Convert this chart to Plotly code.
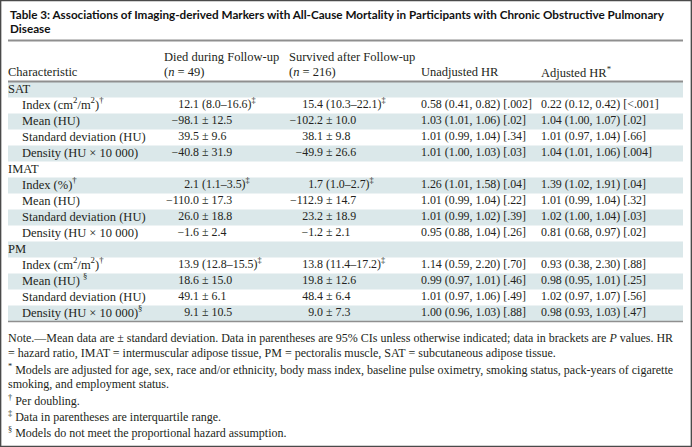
import plotly.graph_objects as go

# ---------------- data ----------------
title_lines = [
    "Table 3: Associations of Imaging-derived Markers with All-Cause Mortality in Participants with Chronic Obstructive Pulmonary",
    "Disease",
]
col_headers = ["Characteristic", "Died during Follow-up", "Survived after Follow-up", "Unadjusted HR", "Adjusted HR<sup>*</sup>"]
col_subheaders = ["", "(<i>n</i> = 49)", "(<i>n</i> = 216)", "", ""]

characteristics = [
    "SAT",
    "Index (cm<sup>2</sup>/m<sup>2</sup>)<sup>†</sup>",
    "Mean (HU)",
    "Standard deviation (HU)",
    "Density (HU × 10 000)",
    "IMAT",
    "Index (%)<sup>†</sup>",
    "Mean (HU)",
    "Standard deviation (HU)",
    "Density (HU × 10 000)",
    "PM",
    "Index (cm<sup>2</sup>/m<sup>2</sup>)<sup>†</sup>",
    "Mean (HU) <sup>§</sup>",
    "Standard deviation (HU)",
    "Density (HU × 10 000)<sup>§</sup>",
]
is_group = [True, False, False, False, False, True, False, False, False, False, True, False, False, False, False]

died = [
    "", "12.1 (8.0–16.6)<sup>‡</sup>", "−98.1 ± 12.5", "39.5 ± 9.6", "−40.8 ± 31.9",
    "", "2.1 (1.1–3.5)<sup>‡</sup>", "−110.0 ± 17.3", "26.0 ± 18.8", "−1.6 ± 2.4",
    "", "13.9 (12.8–15.5)<sup>‡</sup>", "18.6 ± 15.0", "49.1 ± 6.1", "9.1 ± 10.5",
]
survived = [
    "", "15.4 (10.3–22.1)<sup>‡</sup>", "−102.2 ± 10.0", "38.1 ± 9.8", "−49.9 ± 26.6",
    "", "1.7 (1.0–2.7)<sup>‡</sup>", "−112.9 ± 14.7", "23.2 ± 18.9", "−1.2 ± 2.1",
    "", "13.8 (11.4–17.2)<sup>‡</sup>", "19.8 ± 12.6", "48.4 ± 6.4", "9.0 ± 7.3",
]
unadjusted_hr = [
    "", "0.58 (0.41, 0.82) [.002]", "1.03 (1.01, 1.06) [.02]", "1.01 (0.99, 1.04) [.34]", "1.01 (1.00, 1.03) [.03]",
    "", "1.26 (1.01, 1.58) [.04]", "1.01 (0.99, 1.04) [.22]", "1.01 (0.99, 1.02) [.39]", "0.95 (0.88, 1.04) [.26]",
    "", "1.14 (0.59, 2.20) [.70]", "0.99 (0.97, 1.01) [.46]", "1.01 (0.97, 1.06) [.49]", "1.00 (0.96, 1.03) [.88]",
]
adjusted_hr = [
    "", "0.22 (0.12, 0.42) [&lt;.001]", "1.04 (1.00, 1.07) [.02]", "1.01 (0.97, 1.04) [.66]", "1.04 (1.01, 1.06) [.004]",
    "", "1.39 (1.02, 1.91) [.04]", "1.01 (0.99, 1.04) [.32]", "1.02 (1.00, 1.04) [.03]", "0.81 (0.68, 0.97) [.02]",
    "", "0.93 (0.38, 2.30) [.88]", "0.98 (0.95, 1.01) [.25]", "1.02 (0.97, 1.07) [.56]", "0.98 (0.93, 1.03) [.47]",
]
footnotes = [
    "Note.—Mean data are ± standard deviation. Data in parentheses are 95% CIs unless otherwise indicated; data in brackets are <i>P</i> values. HR",
    "= hazard ratio, IMAT = intermuscular adipose tissue, PM = pectoralis muscle, SAT = subcutaneous adipose tissue.",
    "<sup>*</sup> Models are adjusted for age, sex, race and/or ethnicity, body mass index, baseline pulse oximetry, smoking status, pack-years of cigarette",
    "smoking, and employment status.",
    "<sup>†</sup> Per doubling.",
    "<sup>‡</sup> Data in parentheses are interquartile range.",
    "<sup>§</sup> Models do not meet the proportional hazard assumption.",
]

# ---------------- layout / style ----------------
W, H = 692, 447
ROW0 = 89.5      # pixel centre of first body row
ROWH = 16.0      # row height in pixels
LEFT, RIGHT = 8, 683
X_GROUP, X_SUB = 8, 22
X_DIED_DEC, X_SURV_DEC = 199, 323
X_UNADJ, X_ADJ = 421, 541
X_DIED_HDR, X_SURV_HDR = 164, 289
SERIF = "Liberation Serif"
SANS = "Lato"
FS = 12.5        # label text
FS_NUM = 11.9    # numeric cells
FS_FOOT = 12.0
TXT = "#231f20"
SHADE = "#dbe8ea"
RULE = "#8f8f8f"
APAD = 2         # annotation inner padding

def py(p):
    """pixel row -> paper fraction"""
    return 1 - p / H

n = len(characteristics)
rows = list(range(n))
shaded = [i for i in rows if i % 2 == 0]

fig = go.Figure()

# row shading as horizontal bars on the row scale
fig.add_trace(go.Bar(
    y=shaded, x=[RIGHT - LEFT] * len(shaded), base=[LEFT] * len(shaded),
    orientation="h", width=1.0, marker=dict(color=SHADE, line=dict(width=0)),
    hoverinfo="skip", showlegend=False,
))

def text_trace(xs, ys, texts, pos, size):
    keep = [k for k, t in enumerate(texts) if t]
    fig.add_trace(go.Scatter(
        x=[xs[k] for k in keep], y=[ys[k] for k in keep], text=[texts[k] for k in keep],
        mode="text", textposition=pos,
        textfont=dict(family=SERIF, size=size, color=TXT),
        hoverinfo="skip", showlegend=False, cliponaxis=False,
    ))

# characteristic column
text_trace([X_GROUP if g else X_SUB for g in is_group], rows, characteristics, "middle right", FS)

# decimal-aligned value columns
def split_first(s):
    if not s:
        return "", ""
    k = s.find(" ")
    return s[:k], "\u00a0" + s[k + 1:]

for col, xdec in ((died, X_DIED_DEC), (survived, X_SURV_DEC)):
    left = [split_first(s)[0] for s in col]
    right = [split_first(s)[1] for s in col]
    text_trace([xdec] * n, rows, left, "middle left", FS_NUM)
    text_trace([xdec] * n, rows, right, "middle right", FS_NUM)

text_trace([X_UNADJ] * n, rows, unadjusted_hr, "middle right", FS_NUM)
text_trace([X_ADJ] * n, rows, adjusted_hr, "middle right", FS_NUM)

font = dict(family=SERIF, size=FS, color=TXT)
annotations = []
# title
for i, t in enumerate(title_lines):
    annotations.append(dict(
        x=10 - APAD, xref="x", y=py(14 + i * 14.5), yref="paper", text="<b>" + t + "</b>",
        showarrow=False, xanchor="left", yanchor="middle",
        font=dict(family=SANS, size=11.7, color="#111111"),
    ))
# headers
hdr_x = [LEFT, X_DIED_HDR, X_SURV_HDR, X_UNADJ, X_ADJ]
for j in range(5):
    if col_subheaders[j]:
        annotations.append(dict(x=hdr_x[j] - APAD, xref="x", y=py(57), yref="paper", text=col_headers[j],
                                showarrow=False, xanchor="left", yanchor="middle", font=font))
        annotations.append(dict(x=hdr_x[j] - APAD, xref="x", y=py(72), yref="paper", text=col_subheaders[j],
                                showarrow=False, xanchor="left", yanchor="middle", font=font))
    else:
        annotations.append(dict(x=hdr_x[j] - APAD, xref="x", y=py(72), yref="paper", text=col_headers[j],
                                showarrow=False, xanchor="left", yanchor="middle", font=font))
# footnotes
foot_y = [338, 353, 369, 384, 400, 416, 432]
for t, yy in zip(footnotes, foot_y):
    annotations.append(dict(x=LEFT - APAD, xref="x", y=py(yy), yref="paper", text=t,
                            showarrow=False, xanchor="left", yanchor="middle",
                            font=dict(family=SERIF, size=FS_FOOT, color=TXT)))

shapes = [
    # rule under title
    dict(type="line", xref="x", yref="paper", x0=LEFT, x1=RIGHT, y0=py(40.5), y1=py(40.5),
         line=dict(color=RULE, width=2)),
    # rule under header
    dict(type="line", xref="x", yref="y", x0=LEFT, x1=RIGHT, y0=-0.5, y1=-0.5,
         line=dict(color=RULE, width=2)),
    # rule under body
    dict(type="line", xref="x", yref="y", x0=LEFT, x1=RIGHT, y0=n - 0.5, y1=n - 0.5,
         line=dict(color=RULE, width=1.5)),
    # outer frame
    dict(type="rect", xref="paper", yref="paper", x0=0.6 / W, x1=1 - 0.6 / W, y0=0.6 / H, y1=1 - 0.6 / H,
         line=dict(color="#4a4a4a", width=1.5)),
]

fig.update_layout(
    width=W, height=H, margin=dict(l=0, r=0, t=0, b=0),
    paper_bgcolor="white", plot_bgcolor="white",
    xaxis=dict(range=[0, W], visible=False, fixedrange=True),
    yaxis=dict(range=[(H - ROW0) / ROWH, -ROW0 / ROWH], visible=False, fixedrange=True),
    annotations=annotations, shapes=shapes, showlegend=False,
)

fig.write_html(
    "out.html",
    config={"displayModeBar": False},
    post_script="document.body.style.margin='0';document.body.style.overflow='hidden';",
)
